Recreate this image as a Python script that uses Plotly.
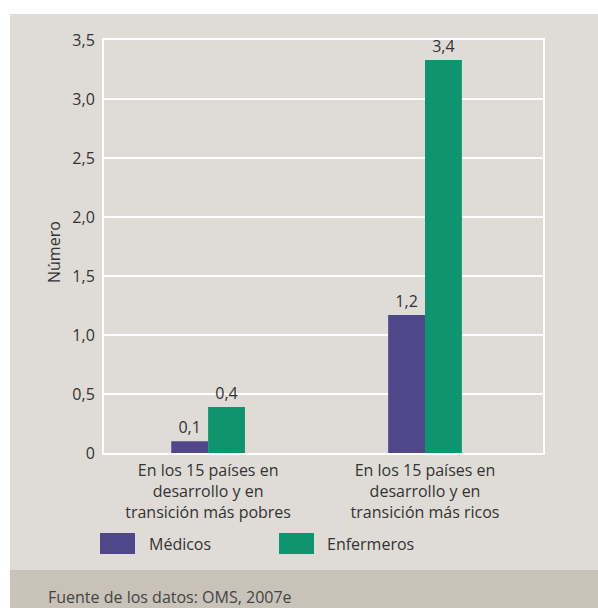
import plotly.graph_objects as go

categories = ["En los 15 países en<br>desarrollo y en<br>transición más pobres",
              "En los 15 países en<br>desarrollo y en<br>transición más ricos"]
series_names = ["Médicos", "Enfermeros"]
medicos = [0.1, 1.17]
enfermeros = [0.39, 3.33]
medicos_labels = ["0,1", "1,2"]
enfermeros_labels = ["0,4", "3,4"]
y_ticks = [0, 0.5, 1.0, 1.5, 2.0, 2.5, 3.0, 3.5]
y_ticktext = ["0", "0,5", "1,0", "1,5", "2,0", "2,5", "3,0", "3,5"]
source_text = "Fuente de los datos: OMS, 2007e"
y_title = "Número"

colors = ["#4f4789", "#0f9470"]
W, H = 598, 608
L, R, T, B = 104, 543, 40, 453
FONT = "Open Sans"
FS = 16
TXT = "#333333"


def px(x):
    return (x - L) / (R - L)


def py(y):
    return (B - y) / (B - T)


fig = go.Figure()
xs = [0, 1]
for name, vals, labels, col in [
    (series_names[0], medicos, medicos_labels, colors[0]),
    (series_names[1], enfermeros, enfermeros_labels, colors[1]),
]:
    fig.add_trace(go.Bar(
        x=xs, y=vals, name=name, marker=dict(color=col, line=dict(width=0)),
        text=labels, textposition="outside", cliponaxis=False,
        textfont=dict(family=FONT, size=FS, color=TXT),
        showlegend=False, hoverinfo="skip",
    ))

shapes = [
    dict(type="rect", xref="paper", yref="paper", x0=px(10), x1=px(598), y0=py(570), y1=py(14),
         fillcolor="#dfdcd7", line=dict(width=0), layer="below"),
    dict(type="rect", xref="paper", yref="paper", x0=px(10), x1=px(598), y0=py(608), y1=py(570),
         fillcolor="#c9c2b9", line=dict(width=0), layer="below"),
]
annotations = []
legend_boxes = [(100, 135, 147), (279, 314, 325)]
for (x0, x1, tx), name, col in zip(legend_boxes, series_names, colors):
    shapes.append(dict(type="rect", xref="paper", yref="paper", x0=px(x0), x1=px(x1),
                       y0=py(554), y1=py(533), fillcolor=col, line=dict(width=0)))
    annotations.append(dict(text=name, xref="paper", yref="paper", x=px(tx), y=py(543.5),
                            xanchor="left", yanchor="middle", showarrow=False,
                            font=dict(family=FONT, size=FS, color=TXT)))
annotations.append(dict(text=source_text, xref="paper", yref="paper", x=px(46), y=py(597),
                        xanchor="left", yanchor="middle", showarrow=False,
                        font=dict(family=FONT, size=FS, color="#444444")))
annotations.append(dict(text=y_title, xref="paper", yref="paper", x=px(54), y=py(252),
                        xanchor="center", yanchor="middle", showarrow=False, textangle=-90,
                        font=dict(family=FONT, size=FS, color=TXT)))

fig.update_layout(
    width=W, height=H,
    margin=dict(l=L, r=W - R, t=T, b=H - B, pad=0),
    paper_bgcolor="white", plot_bgcolor="#dfdcd7",
    barmode="group", bargap=0.66, bargroupgap=0,
    shapes=shapes, annotations=annotations,
    font=dict(family=FONT, size=FS, color=TXT),
    xaxis=dict(range=[-0.48, 1.544], tickvals=xs, ticktext=categories,
               showgrid=False, zeroline=False, showline=True, linecolor="white",
               linewidth=2, mirror=True, ticks="", ticklabelstandoff=2,
               tickfont=dict(family=FONT, size=FS, color=TXT)),
    yaxis=dict(range=[0, 3.5], tickvals=y_ticks, ticktext=y_ticktext,
               showgrid=True, gridcolor="white", gridwidth=2, zeroline=False,
               showline=True, linecolor="white", linewidth=2, mirror=True,
               ticks="", ticklabelstandoff=4,
               tickfont=dict(family=FONT, size=FS, color=TXT)),
)

fig.write_html("out.html", config={"displayModeBar": False},
               post_script="document.body.style.margin='0';document.body.style.overflow='hidden';")
